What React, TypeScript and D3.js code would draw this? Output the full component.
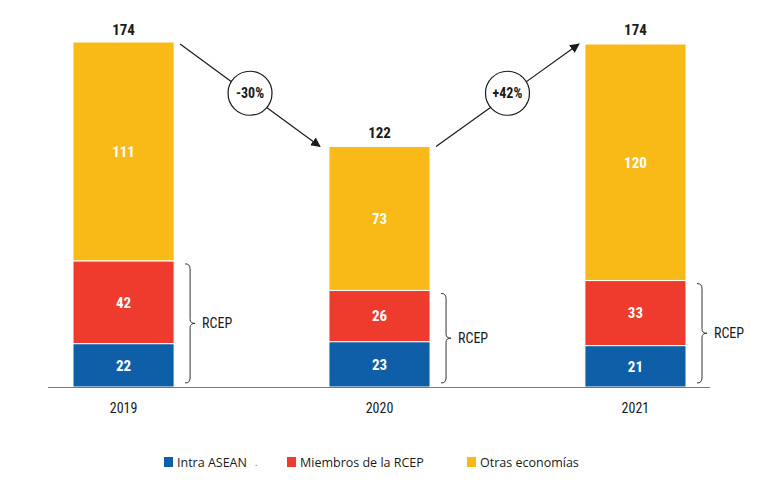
import React from 'react';
import * as d3 from 'd3';

const years = ['2019', '2020', '2021'];
const intraAsean = [22, 23, 21];
const miembrosRcep = [42, 26, 33];
const otrasEconomias = [111, 73, 120];
const totals = [174, 122, 174];
const changes = ['-30%', '+42%'];
const seriesNames = ['Intra ASEAN', 'Miembros de la RCEP', 'Otras economías'];
const colors = ['#0F5FA8', '#EE3B2E', '#F9B916'];

const W = 781;
const H = 492;
const narrow = "'Liberation Sans Narrow', 'Arial Narrow', 'Roboto Condensed', 'Liberation Sans', sans-serif";
const plain = "'Open Sans', 'Noto Sans', 'DejaVu Sans', sans-serif";

export default function App() {
  const x = d3.scaleBand<string>().domain(years).range([73, 686]).paddingInner(0.605).paddingOuter(0);
  const y = d3.scaleLinear().domain([0, 174]).range([387, 44]);
  const bw = x.bandwidth();

  const stackData = years.map((yr, i) => ({ yr, a: intraAsean[i], b: miembrosRcep[i], c: otrasEconomias[i] }));
  const stacked = d3.stack<any>().keys(['a', 'b', 'c'])(stackData);

  const bracket = (x0: number, yTop: number, yBot: number) => {
    const w = 5;
    const mid = (yTop + yBot) / 2;
    return `M${x0},${yTop} q${w},0 ${w},${w} L${x0 + w},${mid - 4} q0,4 ${w},4 q-${w},0 -${w},4 L${x0 + w},${yBot - w} q0,${w} -${w},${w}`;
  };

  const arrowPts = [
    { x1: (x('2019') as number) + bw + 6, y1: y(174), x2: (x('2020') as number) - 9, y2: y(122) },
    { x1: (x('2020') as number) + bw + 6, y1: y(122), x2: (x('2021') as number) - 6, y2: y(174) },
  ];

  return (
    <svg width={W} height={H} style={{ position: 'absolute', left: 0, top: 0, background: '#fff' }}>
      <defs>
        <marker id="ah" viewBox="0 0 10 10" refX="9" refY="5" markerWidth="8" markerHeight="8" orient="auto">
          <path d="M0,0 L10,5 L0,10 z" fill="#1a1a1a" />
        </marker>
      </defs>
      {stacked.map((s, si) => (
        <g key={si}>
          {s.map((d, i) => (
            <g key={i}>
              <rect x={x(years[i])} y={y(d[1])} width={bw} height={y(d[0]) - y(d[1])} fill={colors[si]} stroke="#fff" strokeWidth={1} />
              <text x={(x(years[i]) as number) + bw / 2} y={(y(d[0]) + y(d[1])) / 2} dy="0.36em" textAnchor="middle"
                fill="#fff" fontFamily={narrow} fontWeight="bold" fontSize={15}>{d[1] - d[0]}</text>
            </g>
          ))}
        </g>
      ))}
      {years.map((yr, i) => (
        <g key={yr}>
          <text x={(x(yr) as number) + bw / 2} y={y(totals[i]) - 9} textAnchor="middle" fontFamily={narrow} fontWeight="bold" fontSize={15} fill="#1a1a1a">{totals[i]}</text>
          <text x={(x(yr) as number) + bw / 2} y={413} textAnchor="middle" fontFamily={narrow} fontSize={14} fill="#1a1a1a">{yr}</text>
          <path d={bracket((x(yr) as number) + bw + 11, y(intraAsean[i] + miembrosRcep[i]) + 3, 383)} fill="none" stroke="#333" strokeWidth={1} />
          <text x={(x(yr) as number) + bw + 28} y={(y(intraAsean[i] + miembrosRcep[i]) + 386) / 2} dy="0.36em" fontFamily={narrow} fontSize={14} fill="#1a1a1a">RCEP</text>
        </g>
      ))}
      <line x1={48} x2={710} y1={387.5} y2={387.5} stroke="#777" strokeWidth={1.2} />
      {arrowPts.map((a, i) => {
        const cx = (a.x1 + a.x2) / 2;
        const cy = (a.y1 + a.y2) / 2 - 2;
        return (
          <g key={i}>
            <line x1={a.x1} y1={a.y1} x2={a.x2} y2={a.y2} stroke="#1a1a1a" strokeWidth={1.2} markerEnd="url(#ah)" />
            <circle cx={cx} cy={cy} r={22} fill="#fff" stroke="#1a1a1a" strokeWidth={1.2} />
            <text x={cx} y={cy} dy="0.36em" textAnchor="middle" fontFamily={narrow} fontWeight="bold" fontSize={14} fill="#1a1a1a">{changes[i]}</text>
          </g>
        );
      })}
      {[164, 287, 467].map((lx, i) => (
        <g key={i}>
          <rect x={lx} y={457} width={9} height={10} fill={colors[i]} />
          <text x={lx + 13} y={466.5} fontFamily={plain} fontSize={12.5} fill="#1a1a1a">{seriesNames[i]}</text>
        </g>
      ))}
      <text x={255} y={466} fontFamily={plain} fontSize={9} fill="#555">.</text>
    </svg>
  );
}
